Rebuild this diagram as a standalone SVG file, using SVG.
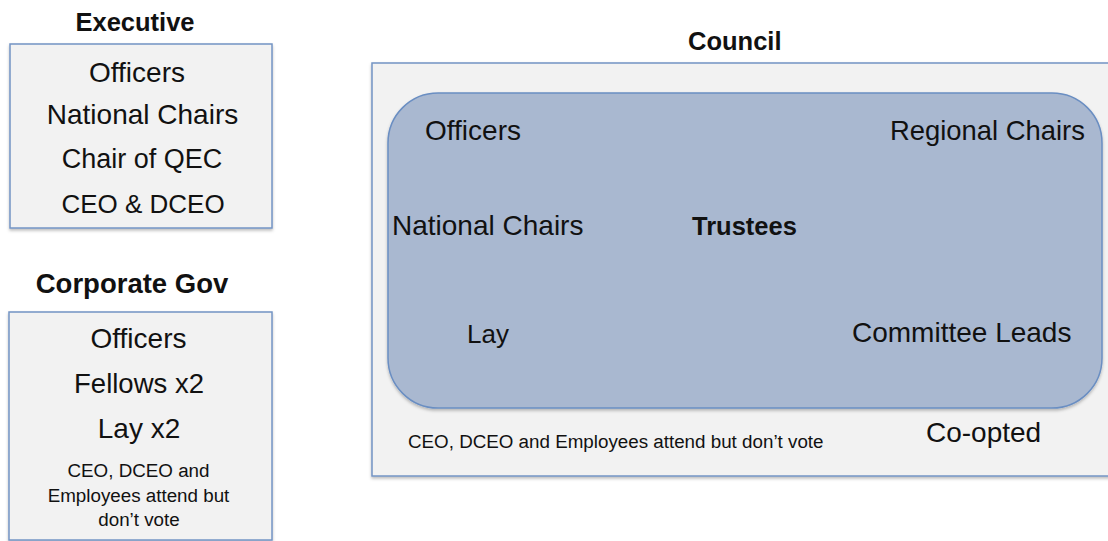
<svg xmlns="http://www.w3.org/2000/svg" width="1108" height="541" viewBox="0 0 1108 541">
  <defs>
    <filter id="sh" x="-5%" y="-5%" width="110%" height="115%">
      <feDropShadow dx="0" dy="2" stdDeviation="1.5" flood-color="#000" flood-opacity="0.25"/>
    </filter>
    <style>
      .box { fill: #f2f2f2; stroke: #7394c4; stroke-width: 1.5; }
      .trust { fill: #a9b8d0; stroke: #6a8ec2; stroke-width: 1.5; }
      text { font-family: "Liberation Sans", Arial, sans-serif; fill: #111; }
      .t { font-weight: bold; font-size: 25.5px; }
      .m { font-size: 28px; }
      .s { font-size: 18.8px; }
      .c { text-anchor: middle; }
    </style>
  </defs>
  <rect width="1108" height="541" fill="#ffffff"/>

  <g id="executive">
    <text class="t c" x="135" y="31">Executive</text>
    <rect class="box" x="10" y="44" width="262" height="184" filter="url(#sh)"/>
    <text class="m c" x="137" y="82">Officers</text>
    <text class="m c" x="142.5" y="124">National Chairs</text>
    <text class="m c" x="142" y="168" style="font-size:27px">Chair of QEC</text>
    <text class="m c" x="143" y="213" style="font-size:26px">CEO &amp; DCEO</text>
  </g>

  <g id="corporate-gov">
    <text class="t c" x="132" y="293" style="font-size:27.5px">Corporate Gov</text>
    <rect class="box" x="9" y="312" width="263" height="228" filter="url(#sh)"/>
    <text class="m c" x="138.5" y="348">Officers</text>
    <text class="m c" x="139" y="393" style="font-size:27.5px">Fellows x2</text>
    <text class="m c" x="139" y="438">Lay x2</text>
    <text class="s c" x="138.5" y="477">CEO, DCEO and</text>
    <text class="s c" x="138.5" y="502">Employees attend but</text>
    <text class="s c" x="139" y="526">don’t vote</text>
  </g>

  <g id="council">
    <text class="t" x="688" y="50">Council</text>
    <rect class="box" x="372" y="63" width="745" height="413" filter="url(#sh)"/>
    <g id="trustees">
      <rect class="trust" x="388" y="93" width="714" height="315" rx="50" ry="50" filter="url(#sh)"/>
      <text class="m" x="425" y="140">Officers</text>
      <text class="m" x="890" y="140" style="font-size:27.4px">Regional Chairs</text>
      <text class="m" x="392" y="235">National Chairs</text>
      <text class="t" x="692" y="235">Trustees</text>
      <text class="m" x="467" y="343" style="font-size:26px">Lay</text>
      <text class="m" x="852" y="342">Committee Leads</text>
    </g>
    <text class="s" x="408" y="448">CEO, DCEO and Employees attend but don’t vote</text>
    <text class="m" x="926" y="442">Co-opted</text>
  </g>

  <g id="connectors"></g>
</svg>
